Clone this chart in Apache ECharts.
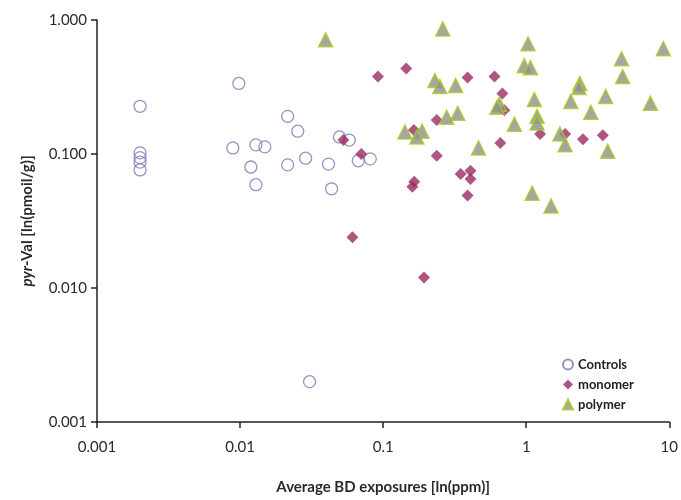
<!DOCTYPE html>
<html>
<head>
<meta charset="utf-8">
<script src="https://cdn.jsdelivr.net/npm/echarts@6/dist/echarts.min.js"></script>
<style>html,body{margin:0;padding:0;background:#fff}#c{width:681px;height:500px}</style>
</head>
<body>
<div id="c"></div>
<script>
// Exposure (ppm) and pyr-Val (pmol/g) per subject group
const controlsX = [0.002, 0.002, 0.002, 0.002, 0.002, 0.0089, 0.0098, 0.0119, 0.0129, 0.0129, 0.0149, 0.0215, 0.0215, 0.0253, 0.0287, 0.0306, 0.0415, 0.0436, 0.0495, 0.058, 0.067, 0.0813];
const controlsY = [0.227, 0.102, 0.094, 0.087, 0.076, 0.111, 0.336, 0.080, 0.117, 0.059, 0.113, 0.191, 0.083, 0.148, 0.093, 0.002, 0.084, 0.055, 0.134, 0.127, 0.089, 0.092];

const monomerX = [0.092, 0.145, 0.0527, 0.0703, 0.164, 0.16, 0.165, 0.237, 0.237, 0.061, 0.193, 0.389, 0.600, 0.681, 0.703, 0.348, 0.408, 0.408, 0.389, 0.659, 1.25, 1.87, 2.49, 3.43];
const monomerY = [0.378, 0.434, 0.127, 0.100, 0.151, 0.057, 0.062, 0.179, 0.097, 0.0239, 0.012, 0.372, 0.378, 0.283, 0.212, 0.071, 0.075, 0.065, 0.049, 0.121, 0.141, 0.141, 0.129, 0.138];

const polymerX = [0.0396, 0.261, 0.230, 0.249, 0.321, 0.332, 0.278, 0.142, 0.187, 0.172, 1.03, 0.969, 1.07, 4.64, 4.72, 9.08, 0.65, 0.625, 1.14, 2.37, 2.34, 2.05, 3.59, 2.83, 7.38, 1.19, 1.19, 0.826, 1.72, 1.87, 3.71, 0.464, 1.10, 1.49];
const polymerY = [0.711, 0.858, 0.353, 0.319, 0.325, 0.201, 0.188, 0.146, 0.148, 0.134, 0.664, 0.456, 0.441, 0.514, 0.378, 0.610, 0.235, 0.223, 0.255, 0.336, 0.313, 0.247, 0.269, 0.205, 0.239, 0.191, 0.170, 0.167, 0.141, 0.117, 0.105, 0.111, 0.051, 0.041];

const seriesNames = ['Controls', 'monomer', 'polymer'];
const xTickLabels = {'0.001': '0.001', '0.01': '0.01', '0.1': '0.1', '1': '1', '10': '10'};

const pairs = (xs, ys) => xs.map((x, i) => [x, ys[i]]);
const FONT = 'Lato';

const chart = echarts.init(document.getElementById('c'));
chart.setOption({
  animation: false,
  backgroundColor: '#fff',
  grid: {left: 97, right: 8, top: 20, bottom: 75, containLabel: false},
  legend: {
    orient: 'vertical',
    left: 557, top: 353,
    itemGap: 7, itemWidth: 10, itemHeight: 10,
    textStyle: {fontFamily: FONT, fontSize: 13, fontWeight: 'bold', color: '#222'},
    data: seriesNames
  },
  xAxis: {
    type: 'log', logBase: 10, min: 0.001, max: 10,
    name: 'Average BD exposures [ln(ppm)]',
    nameLocation: 'middle', nameGap: 58,
    nameTextStyle: {fontFamily: FONT, fontSize: 15, fontWeight: 'bold', color: '#2a2a2a'},
    axisLine: {show: true, lineStyle: {color: '#222', width: 1.5}},
    axisTick: {show: true, length: 6, lineStyle: {color: '#222', width: 1.5}},
    minorTick: {show: false},
    splitLine: {show: false},
    axisLabel: {
      fontFamily: FONT, fontSize: 15, color: '#2a2a2a', margin: 18,
      formatter: v => xTickLabels[String(+v.toPrecision(3))] || String(+v.toPrecision(3))
    }
  },
  yAxis: {
    type: 'log', logBase: 10, min: 0.001, max: 1,
    name: '{i|pyr}{n|-Val [ln(pmoil/g)]}',
    nameLocation: 'middle', nameGap: 62, nameRotate: 90,
    nameTextStyle: {
      rich: {
        i: {fontFamily: FONT, fontSize: 15, fontWeight: 'bold', fontStyle: 'italic', color: '#2a2a2a'},
        n: {fontFamily: FONT, fontSize: 15, fontWeight: 'bold', color: '#2a2a2a'}
      }
    },
    axisLine: {show: true, lineStyle: {color: '#222', width: 1.5}},
    axisTick: {show: true, length: 6, lineStyle: {color: '#222', width: 1.5}},
    splitLine: {show: false},
    axisLabel: {
      fontFamily: FONT, fontSize: 15, color: '#2a2a2a', margin: 10,
      formatter: v => v.toFixed(3)
    }
  },
  series: [
    {
      name: seriesNames[0], type: 'scatter', symbol: 'circle', symbolSize: 12,
      itemStyle: {color: 'rgba(255,255,255,0)', borderColor: '#7a78b8', borderWidth: 1.3},
      data: pairs(controlsX, controlsY)
    },
    {
      name: seriesNames[1], type: 'scatter', symbol: 'diamond', symbolSize: 12,
      itemStyle: {color: '#9a2c62'},
      data: pairs(monomerX, monomerY)
    },
    {
      name: seriesNames[2], type: 'scatter', symbol: 'triangle', symbolSize: 14,
      itemStyle: {color: '#8e8e8e', borderColor: '#a6cc1e', borderWidth: 1.5},
      data: pairs(polymerX, polymerY)
    }
  ]
});
</script>
</body>
</html>
